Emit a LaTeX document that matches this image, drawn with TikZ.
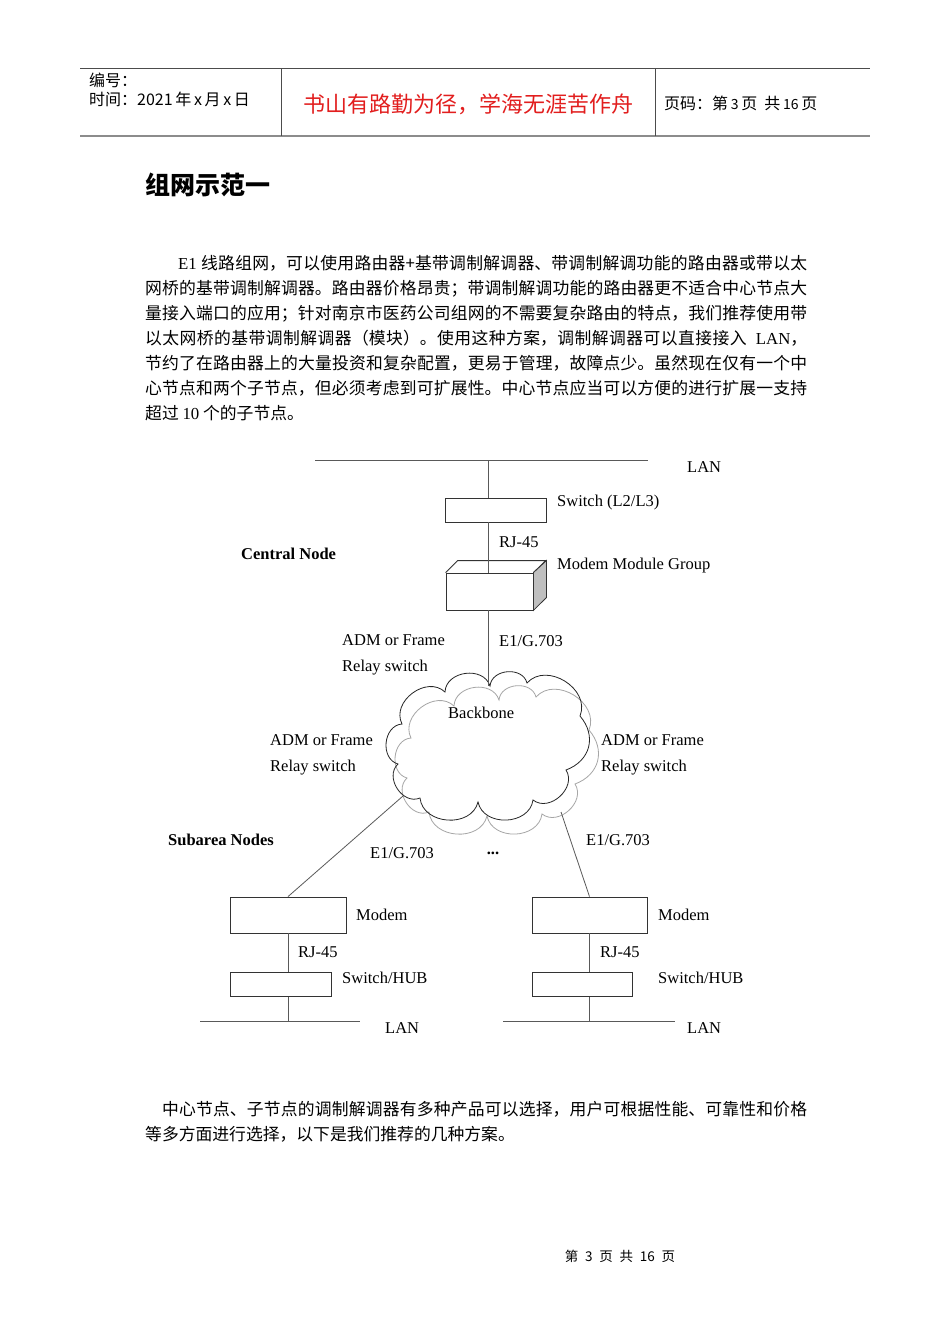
\documentclass[tikz,border=0pt]{standalone}
\usepackage{fontspec}
\setmainfont{Liberation Serif}
\newfontfamily\zh{Noto Sans CJK SC}
\usepackage{xcolor}
\usepackage{tikz}
\usetikzlibrary{positioning}
\definecolor{mottored}{RGB}{226,30,30}
\XeTeXlinebreaklocale "zh"
\XeTeXlinebreakskip=0pt plus 1pt
\newcommand{\lat}[1]{{\rmfamily #1}}
\newcommand{\cloudoutline}{(490,686) to (527,683) to (580,716) to[bend left=55] (566,770) to (533,800)
  to (478,802) to (420,798) to (398,764) to (402,724) to (445,692) to cycle}

\begin{document}
\begin{tikzpicture}[x=1pt, y=-1pt,
  unit/.style={draw=black!80, line width=0.8pt, inner sep=0pt},
  wire/.style={black!65, line width=0.8pt},
  puff/.style={line width=0.8pt, every to/.style={bend left=80, looseness=1.2}},
  lbl/.style={anchor=west, inner sep=0pt, font=\fontsize{16.5}{18}\selectfont},
  twoline/.style={lbl, align=left, font=\fontsize{16.5}{25.5}\selectfont},
  hd/.style={anchor=west, inner sep=0pt, font=\zh\fontsize{16}{18}\selectfont},
  body/.style={anchor=north west, inner sep=0pt, text width=662pt, align=justify,
               font=\zh\fontsize{16.8}{25}\selectfont}]
\useasboundingbox[fill=white] (0,0) rectangle (950,1344);

% page header
\draw[black!70, line width=0.8pt] (80,68) -- (870,68);
\draw[black!45, line width=1.8pt] (80,136) -- (870,136);
\draw[black!70, line width=0.8pt] (281,68) -- (281,136) (655,68) -- (655,136);
\node[hd] (num) at (89,80) {编号：};
\node[hd] (date) at (89,99) {时间：2021\,年\,x\,月\,x\,日};
\node[inner sep=0pt, text=mottored, font=\zh\fontsize{22}{24}\selectfont] (motto) at (468,104) {书山有路勤为径，学海无涯苦作舟};
\node[hd] (pg) at (664,103) {页码：第\,{\fontsize{14}{16}\selectfont 3}\,页\ \ 共\,{\fontsize{14}{16}\selectfont 16}\,页};

% title and text
\node[anchor=west, inner sep=0pt, font=\zh\bfseries\fontsize{25}{27}\selectfont] (title) at (145,185) {组网示范一};
\node[body] (para) at (145,255) {\hspace*{33pt}\lat{E1} 线路组网，可以使用路由器+基带调制解调器、带调制解调功能的路由器或带以太\linebreak
网桥的基带调制解调器。路由器价格昂贵；带调制解调功能的路由器更不适合中心节点大\linebreak
量接入端口的应用；针对南京市医药公司组网的不需要复杂路由的特点，我们推荐使用带\linebreak
以太网桥的基带调制解调器（模块）。使用这种方案，调制解调器可以直接接入\ \ \lat{LAN}，\linebreak
节约了在路由器上的大量投资和复杂配置，更易于管理，故障点少。虽然现在仅有一个中\linebreak
心节点和两个子节点，但必须考虑到可扩展性。中心节点应当可以方便的进行扩展一支持\linebreak
超过 \lat{10} 个的子节点。};

% central node
\coordinate (lanTa) at (315,460);
\coordinate (lanTb) at (648,460);
\coordinate (lanTx) at (488,460);
\draw[wire] (lanTa) -- (lanTb);
\node[lbl] (lanT) at (687,467) {LAN};
\node[unit, minimum width=101pt, minimum height=24pt] (sw) at (495.5,510) {};
\node[lbl] (swl) at (557,503) {Switch (L2/L3)};
\node[unit, minimum width=87pt, minimum height=37pt] (mmg) at (489.5,591.5) {};
\draw[black!80, line width=0.8pt] (mmg.north west) -- ++(12,-12) -- ++(88,0) -- (mmg.north east);
\draw[black!80, line width=0.8pt, fill=black!25] (mmg.north east) -- ++(13,-12) -- ++(0,37) -- (mmg.south east) -- cycle;
\node[lbl] (mmgl) at (557,566) {Modem Module Group};
\node[lbl] (rjc) at (499,542) {RJ-45};
\node[lbl, font=\bfseries\fontsize{16.5}{18}\selectfont] (cen) at (241,554) {Central Node};

% backbone
\draw[puff, black!35, shift={(9,14)}] \cloudoutline;
\draw[puff, black!85] \cloudoutline;
\coordinate (bbTop) at (488,686);
\node[lbl] (bbl) at (448,713) {Backbone};
\draw[wire] (lanTx) -- (lanTx |- sw.north);
\draw[wire] (lanTx |- sw.south) -- (lanTx |- mmg.north);
\draw[wire] (lanTx |- mmg.south) -- (bbTop);
\node[lbl] (e1c) at (499,641) {E1/G.703};
\node[twoline] (admc) at (342,655) {ADM or Frame\\Relay switch};
\node[twoline] (admL) at (270,755) {ADM or Frame\\Relay switch};
\node[twoline] (admR) at (601,755) {ADM or Frame\\Relay switch};

% subarea nodes
\node[lbl, font=\bfseries\fontsize{16.5}{18}\selectfont] (sub) at (168,840) {Subarea Nodes};
\coordinate (bbL) at (403,796);
\coordinate (bbR) at (561,812);
\node[unit, minimum width=116pt, minimum height=36pt] (mL) at (288,915) {};
\node[unit, minimum width=115pt, minimum height=36pt] (mR) at (589.5,915) {};
\draw[wire] (bbL) -- (mL.north);
\draw[wire] (bbR) -- (mR.north);
\node[lbl] (e1L) at (370,853) {E1/G.703};
\node[lbl] (e1R) at (586,840) {E1/G.703};
\node[inner sep=0pt, font=\bfseries\fontsize{16.5}{18}\selectfont] (dots) at (493,853) {...};
\node[lbl] (mLl) at (356,915) {Modem};
\node[lbl] (mRl) at (658,915) {Modem};
\node[unit, anchor=north west, minimum width=101pt, minimum height=24pt] (hL) at (230,972) {};
\node[unit, anchor=north west, minimum width=100pt, minimum height=24pt] (hR) at (532,972) {};
\node[lbl] (hLl) at (342,978) {Switch/HUB};
\node[lbl] (hRl) at (658,978) {Switch/HUB};
\node[lbl] (rjL) at (298,952) {RJ-45};
\node[lbl] (rjR) at (600,952) {RJ-45};
\coordinate (lanLa) at (200,1021);
\coordinate (lanLb) at (360,1021);
\coordinate (lanRa) at (503,1021);
\coordinate (lanRb) at (675,1021);
\draw[wire] (lanLa) -- (lanLb);
\draw[wire] (lanRa) -- (lanRb);
\draw[wire] (mL.south) -- (mL.south |- hL.north);
\draw[wire] (mL.south |- hL.south) -- (mL.south |- lanLa);
\draw[wire] (mR.south) -- (mR.south |- hR.north);
\draw[wire] (mR.south |- hR.south) -- (mR.south |- lanRa);
\node[lbl] (lanL) at (385,1028) {LAN};
\node[lbl] (lanR) at (687,1028) {LAN};

% closing text and footer
\node[body] (para2) at (145,1101) {\hspace*{17pt}中心节点、子节点的调制解调器有多种产品可以选择，用户可根据性能、可靠性和价格\linebreak
等多方面进行选择，以下是我们推荐的几种方案。};
\node[inner sep=0pt, font=\zh\fontsize{13.5}{15}\selectfont] (foot) at (620,1256) {第\enspace 3\enspace 页\enspace 共\enspace 16\enspace 页};
\end{tikzpicture}
\end{document}
